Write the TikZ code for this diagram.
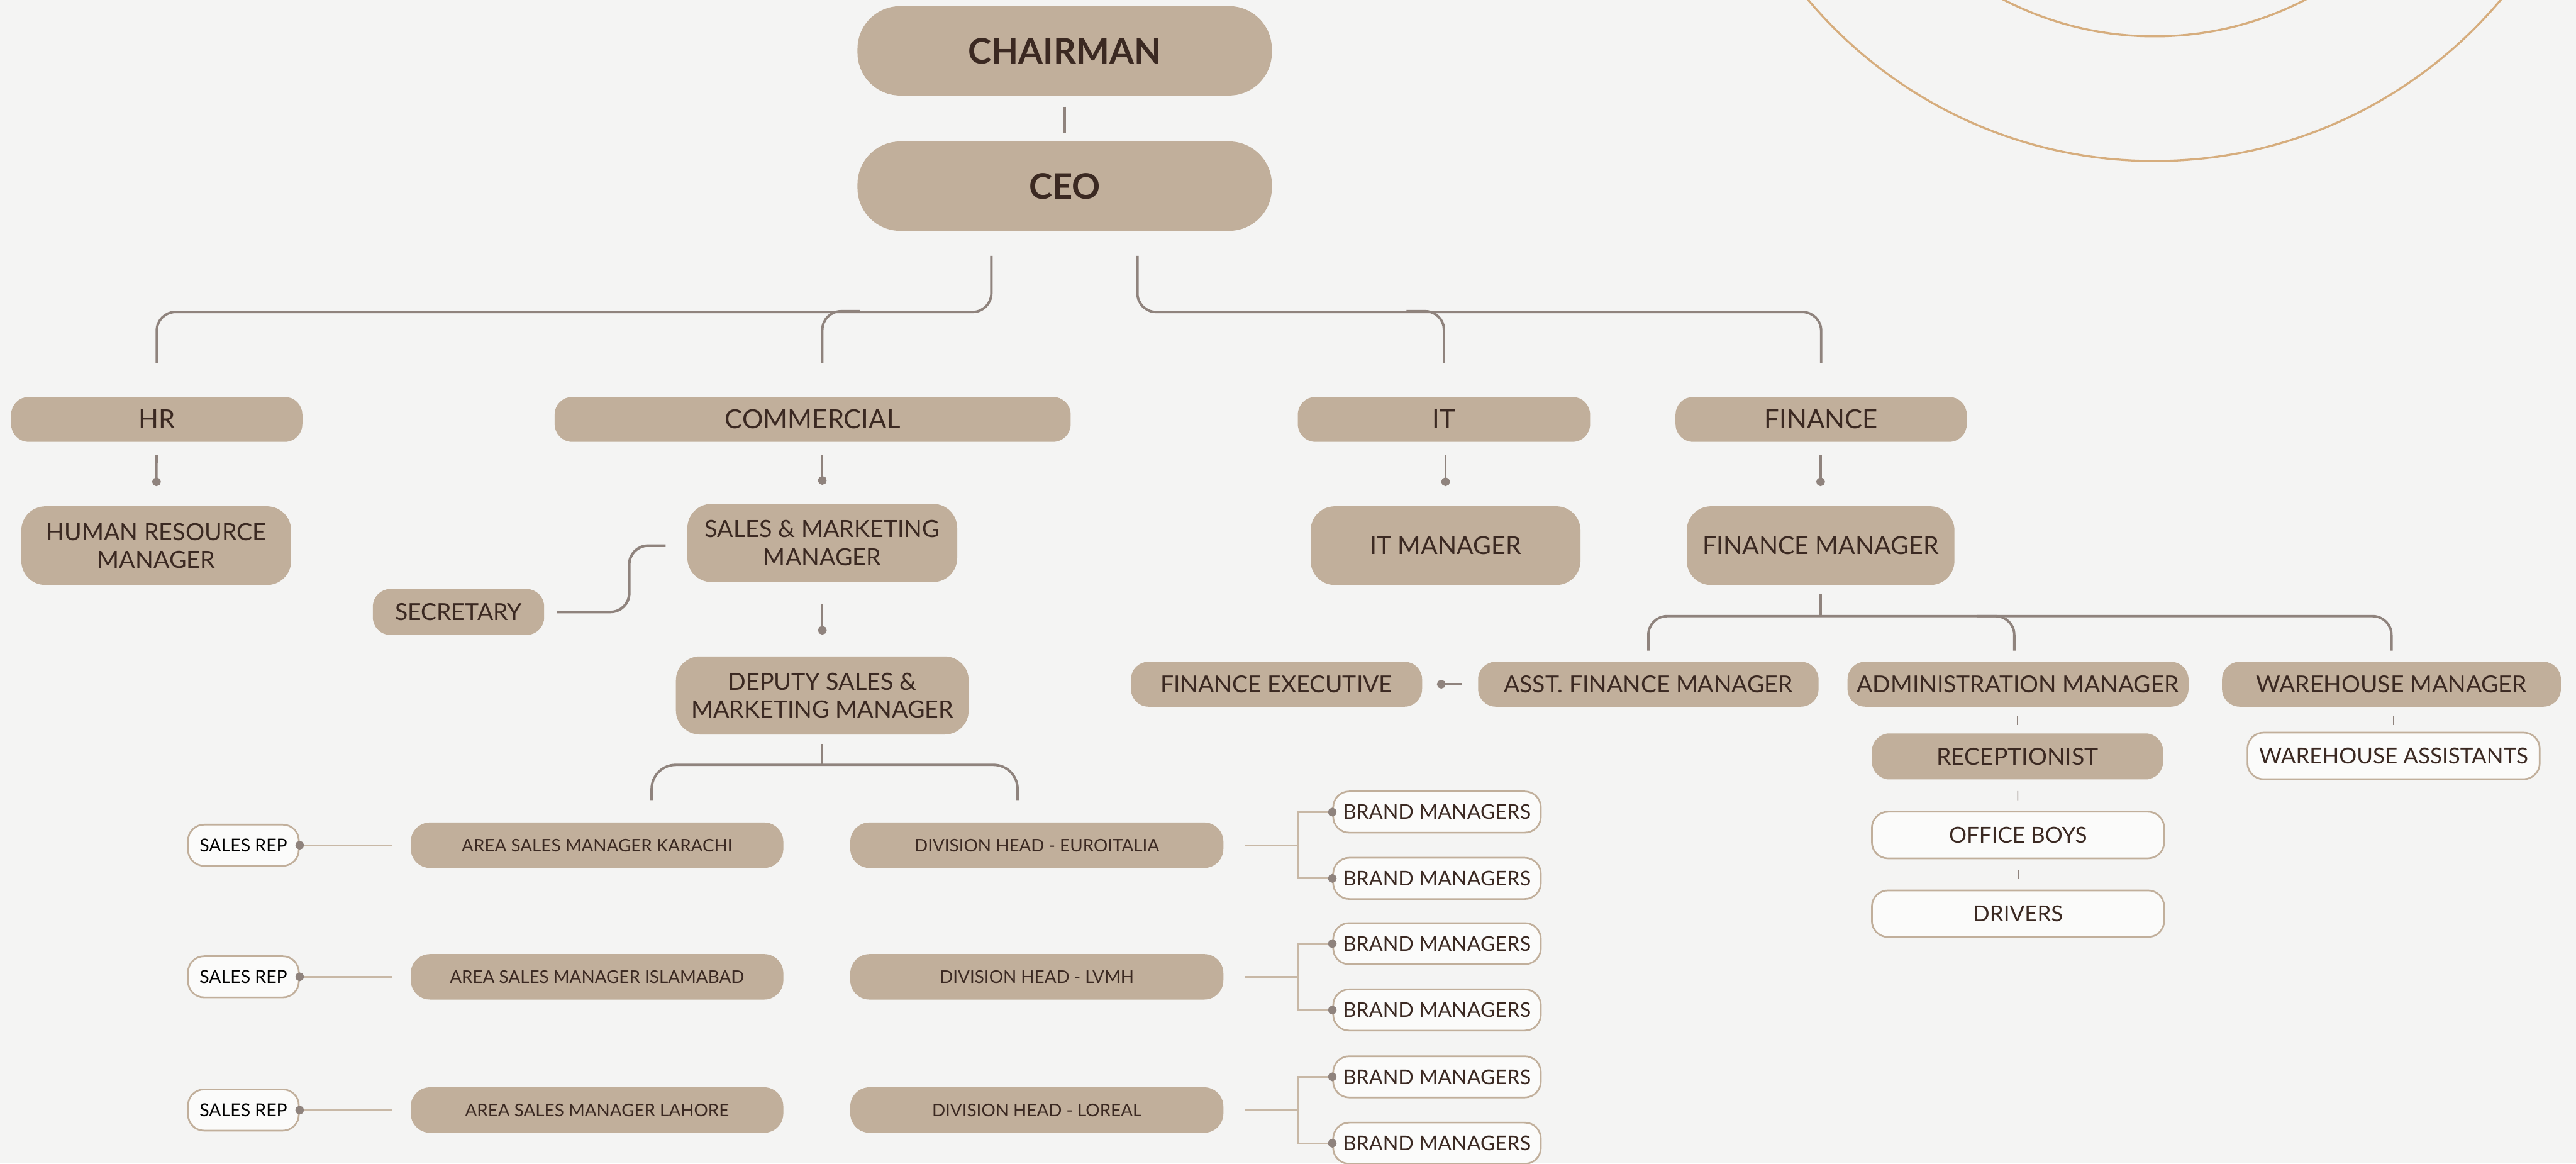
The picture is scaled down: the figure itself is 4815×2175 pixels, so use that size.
\documentclass[tikz,border=0pt]{standalone}
\usepackage{fontspec}
\setmainfont{Lato}
\usepackage{tikz}
\usetikzlibrary{arrows.meta,positioning,calc}
\definecolor{paper}{HTML}{F4F4F3}
\definecolor{sand}{HTML}{C1AF9B}
\definecolor{sandline}{HTML}{C8B8A6}
\definecolor{ink}{HTML}{3B2922}
\definecolor{wire}{HTML}{8F837D}
\definecolor{ringtan}{HTML}{D6AD7D}
\tikzset{
  post/.style={fill=sand, text=ink, align=center, inner sep=0pt, rounded corners=0.33cm},
  toppost/.style={post, rounded corners=0.8cm, minimum width=7.74cm, minimum height=1.67cm, font=\bfseries\fontsize{18.7}{22}\selectfont},
  deptpost/.style={post, minimum height=0.84cm, font=\fontsize{14}{16}\selectfont},
  mgrpost/.style={post, rounded corners=0.45cm, minimum height=1.47cm, font=\fontsize{12.6}{14.8}\selectfont},
  rolepost/.style={post, minimum height=0.85cm, font=\fontsize{12.5}{14}\selectfont},
  areapost/.style={post, rounded corners=0.36cm, minimum height=0.85cm, font=\fontsize{9.3}{11}\selectfont},
  openpost/.style={fill=paper!40!white, draw=sand, line width=0.9pt, text=ink, align=center, inner sep=0pt, rounded corners=0.3cm},
  bus/.style={draw=wire, line width=1.3pt, rounded corners=0.35cm},
  link/.style={draw=wire, line width=1.4pt},
  stem/.style={draw=wire, line width=1.2pt, -{Circle[length=4.6pt]}},
  tanlink/.style={draw=sandline, line width=0.9pt},
  hairline/.style={draw=wire, line width=0.5pt},
  ring/.style={draw=ringtan, line width=1.1pt}
}

\begin{document}
\begin{tikzpicture}[x=0.01cm, y=-0.01cm]
  \useasboundingbox (0,0) rectangle (4815,2175);
  \fill[paper] (0,0) rectangle (4815,2175);
  \clip (0,0) rectangle (4815,2175);

  % rings, top right
  \draw[ring] (4027,-545) circle[radius=846];
  \draw[ring] (4027,-545) circle[radius=613];

  % board
  \node[toppost] (chair) at (1990,95) {CHAIRMAN};
  \node[toppost] (ceo) at (1990,348) {CEO};
  \draw[link, shorten <=0.2cm, shorten >=0.14cm] (chair) -- (ceo);

  % departments
  \node[deptpost, minimum width=5.44cm] (hr) at (293,784) {HR};
  \node[deptpost, minimum width=9.64cm] (com) at (1519,784) {COMMERCIAL};
  \node[deptpost, minimum width=5.46cm] (it) at (2699,784) {IT};
  \node[deptpost, minimum width=5.44cm] (fin) at (3404,784) {FINANCE};

  \draw[bus] ([shift={(-137,46)}]ceo.south) -- ++(0,105) -| ([shift={(0,-63)}]hr.north);
  \draw[bus] ([shift={(18,-63)}]com.north) |- ++(70,-96.5);
  \draw[bus] ([shift={(136,46)}]ceo.south) -- ++(0,105) -| ([shift={(0,-63)}]fin.north);
  \draw[bus] ([shift={(0,-63)}]it.north) |- ++(-70,-96.5);

  % managers
  \node[mgrpost, minimum width=5.04cm] (hrm) at (292,1020) {HUMAN RESOURCE\\MANAGER};
  \node[mgrpost, minimum width=5.04cm, minimum height=1.46cm] (sm) at (1537,1015) {SALES \& MARKETING\\MANAGER};
  \node[mgrpost, minimum width=5.04cm, font=\fontsize{13.2}{15}\selectfont] (itm) at (2702,1020) {IT MANAGER};
  \node[mgrpost, minimum width=5.00cm, font=\fontsize{13.2}{15}\selectfont] (fm) at (3403,1020) {FINANCE MANAGER};
  \node[rolepost, minimum width=3.20cm, minimum height=0.86cm] (sec) at (857,1144) {SECRETARY};
  \node[mgrpost, minimum width=5.47cm, minimum height=1.46cm] (dep) at (1537,1300) {DEPUTY SALES \&\\MARKETING MANAGER};

  \draw[stem, shorten <=0.24cm, shorten >=0.37cm] (hr) -- (hrm);
  \draw[stem, shorten <=0.24cm, shorten >=0.35cm] (sm.north |- com.south) -- (sm.north);
  \draw[stem, shorten <=0.24cm, shorten >=0.37cm] (itm.north |- it.south) -- (itm.north);
  \draw[stem, shorten <=0.24cm, shorten >=0.37cm] (fm.north |- fin.south) -- (fm.north);
  \draw[stem, shorten <=0.41cm, shorten >=0.4cm] (sm) -- (dep);
  \draw[link, rounded corners=0.35cm] ([shift={(24,0)}]sec.east) -| ([shift={(-108,5)}]sm.west) -- ([shift={(-40,5)}]sm.west);

  % finance side
  \node[rolepost, minimum width=5.44cm, minimum height=0.84cm] (fe) at (2386,1279) {FINANCE EXECUTIVE};
  \node[rolepost, minimum width=6.36cm, minimum height=0.84cm] (afm) at (3081,1279) {ASST. FINANCE MANAGER};
  \node[rolepost, minimum width=6.37cm, minimum height=0.84cm] (adm) at (3772,1279) {ADMINISTRATION MANAGER};
  \node[rolepost, minimum width=6.33cm, minimum height=0.84cm] (whm) at (4470,1279) {WAREHOUSE MANAGER};

  \draw[bus] ([shift={(0,17)}]fm.south) -- ++(0,42);
  \draw[bus] ([shift={(0,-20)}]afm.north) |- ([shift={(0,-84.5)}]whm.north) -- ([shift={(0,-20)}]whm.north);
  \draw[bus] ([shift={(-7,-20)}]adm.north) |- ++(-70,-64.5);
  \draw[link, -{Circle[length=4.6pt]}, shorten <=0.29cm, shorten >=0.27cm] (afm) -- (fe);

  \node[rolepost, minimum width=5.44cm, minimum height=0.86cm] (rec) at (3771,1414) {RECEPTIONIST};
  \node[openpost, minimum width=5.46cm, minimum height=0.87cm, font=\fontsize{11.7}{13}\selectfont] (ob) at (3772,1561) {OFFICE BOYS};
  \node[openpost, minimum width=5.46cm, minimum height=0.87cm, font=\fontsize{11.7}{13}\selectfont] (drv) at (3772,1708) {DRIVERS};
  \node[openpost, minimum width=5.46cm, minimum height=0.87cm, font=\fontsize{11.7}{13}\selectfont] (wha) at (4474,1413) {WAREHOUSE ASSISTANTS};

  \draw[hairline, shorten <=0.17cm, shorten >=0.15cm] (rec.north |- adm.south) -- (rec.north);
  \draw[hairline, shorten <=0.21cm, shorten >=0.2cm] (rec) -- (ob);
  \draw[hairline, shorten <=0.21cm, shorten >=0.2cm] (ob) -- (drv);
  \draw[hairline, shorten <=0.16cm, shorten >=0.13cm] (wha.north |- whm.south) -- (wha.north);

  % sales rows
  \foreach \y/\city/\brand/\n in {1580/KARACHI/EUROITALIA/1,1826/ISLAMABAD/LVMH/2,2075/LAHORE/LOREAL/3} {
    \node[openpost, minimum width=2.07cm, minimum height=0.77cm, text=black, font=\fontsize{9.5}{11}\selectfont] (rep\n) at (455,\y) {SALES REP};
    \node[areapost, minimum width=6.96cm] (asm\n) at (1116,\y) {AREA SALES MANAGER \city};
    \node[areapost, minimum width=6.97cm] (div\n) at (1938,\y) {DIVISION HEAD - \brand};
    \node[openpost, minimum width=3.88cm, minimum height=0.77cm, font=\fontsize{10.8}{12}\selectfont] (bma\n) at (2686,\y-62) {BRAND MANAGERS};
    \node[openpost, minimum width=3.88cm, minimum height=0.77cm, font=\fontsize{10.8}{12}\selectfont] (bmb\n) at (2686,\y+62) {BRAND MANAGERS};
    \draw[tanlink, -{Circle[length=4.6pt, color=wire]}, shorten <=0.34cm, shorten >=-0.08cm] (asm\n) -- (rep\n);
    \draw[tanlink] ([shift={(40,0)}]div\n.east) -- ++(98,0);
    \draw[tanlink, -{Circle[length=4.6pt, color=wire]}, shorten >=-0.08cm] ([shift={(138,0)}]div\n.east) |- (bma\n.west);
    \draw[tanlink, -{Circle[length=4.6pt, color=wire]}, shorten >=-0.08cm] ([shift={(138,0)}]div\n.east) |- (bmb\n.west);
  }
  \draw[bus, rounded corners=0.45cm] ([shift={(102,-41)}]asm1.north) |- ([shift={(-36,-107)}]div1.north) -- ([shift={(-36,-41)}]div1.north);
  \draw[bus] ([shift={(0,17)}]dep.south) -- ++(0,41);
\end{tikzpicture}
\end{document}
